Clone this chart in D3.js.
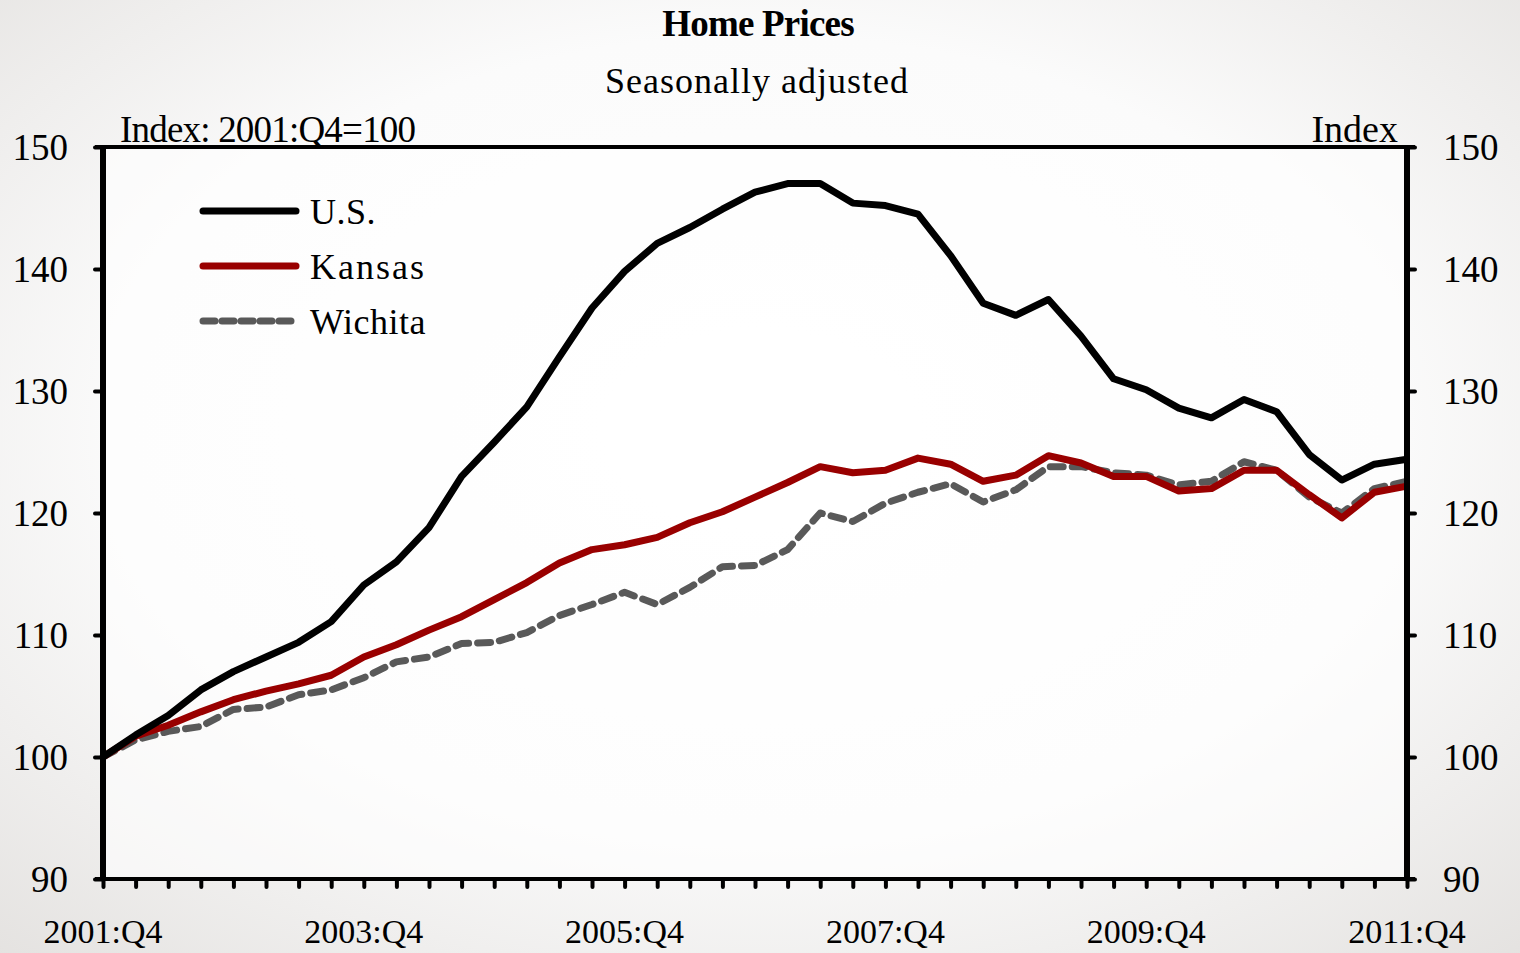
<!DOCTYPE html>
<html>
<head>
<meta charset="utf-8">
<script src="https://cdn.jsdelivr.net/npm/d3@7"></script>
<style>
  body { margin: 0; background: #fff; }
  svg { display: block; font-family: "Liberation Serif", "Times New Roman", serif; }
</style>
</head>
<body>
<svg id="chart" width="1520" height="953"></svg>
<script>
// quarters 2001:Q4 .. 2011:Q4
var quarters = [];
for (var y = 2001; y <= 2011; y++) {
    for (var q = 1; q <= 4; q++) {
        if ((y === 2001 && q < 4) || (y === 2011 && q > 4)) continue;
        quarters.push(y + ':Q' + q);
    }
}

var usValues = [100, 101.8, 103.4, 105.5, 107.0, 108.2, 109.4, 111.1, 114.1, 116.0,
    118.8, 123.0, 125.8, 128.7, 132.8, 136.8, 139.8, 142.1, 143.4, 144.9,
    146.3, 147.0, 147.0, 145.4, 145.2, 144.5, 141.1, 137.2, 136.2, 137.5,
    134.5, 131.0, 130.1, 128.6, 127.8, 129.3, 128.3, 124.8, 122.7, 124.0, 124.4];

var kansasValues = [100, 101.7, 102.6, 103.7, 104.7, 105.4, 106.0, 106.7, 108.2, 109.2,
    110.4, 111.5, 112.9, 114.3, 115.9, 117.0, 117.4, 118.0, 119.2, 120.1,
    121.3, 122.5, 123.8, 123.3, 123.5, 124.5, 124.0, 122.6, 123.1, 124.7,
    124.1, 123.0, 123.0, 121.8, 122.0, 123.5, 123.5, 121.5, 119.6, 121.7, 122.2];

var wichitaValues = [100, 101.4, 102.1, 102.5, 103.9, 104.1, 105.1, 105.5, 106.5, 107.8,
    108.2, 109.3, 109.4, 110.2, 111.6, 112.5, 113.5, 112.5, 113.9, 115.6,
    115.7, 117.0, 120.0, 119.3, 120.8, 121.7, 122.4, 120.9, 121.9, 123.8,
    123.8, 123.3, 123.1, 122.3, 122.6, 124.2, 123.5, 121.3, 120.0, 122.0, 122.6];

var yTicks = [90, 100, 110, 120, 130, 140, 150];
var xLabels = ['2001:Q4', '2003:Q4', '2005:Q4', '2007:Q4', '2009:Q4', '2011:Q4'];

var series = [
    { name: 'Wichita', values: wichitaValues, color: '#595959', dash: '13,9' },
    { name: 'Kansas', values: kansasValues, color: '#990000', dash: null },
    { name: 'U.S.', values: usValues, color: '#000000', dash: null }
];
var legendOrder = ['U.S.', 'Kansas', 'Wichita'];

var svg = d3.select('#chart');
var W = 1520, H = 953;
var margin = { left: 103, right: 113, top: 147, bottom: 74 };

// background with soft vignette
var defs = svg.append('defs');
var grad = defs.append('radialGradient').attr('id', 'bg')
    .attr('cx', '50%').attr('cy', '45%').attr('r', '75%');
grad.append('stop').attr('offset', '0%').attr('stop-color', '#ffffff');
grad.append('stop').attr('offset', '55%').attr('stop-color', '#fbfbfb');
grad.append('stop').attr('offset', '100%').attr('stop-color', '#e4e2e0');
svg.append('rect').attr('width', W).attr('height', H).attr('fill', 'url(#bg)');

var x = d3.scalePoint()
    .domain(quarters)
    .range([margin.left, W - margin.right]);

var y = d3.scaleLinear()
    .domain([90, 150])
    .range([H - margin.bottom, margin.top]);

// plot area
svg.append('rect')
    .attr('x', x.range()[0]).attr('y', y(150))
    .attr('width', x.range()[1] - x.range()[0])
    .attr('height', y(90) - y(150))
    .attr('fill', '#ffffff').attr('opacity', 0.6);

// lines
var line = d3.line()
    .x(function(d, i) { return x(quarters[i]); })
    .y(function(d) { return y(d); });

series.forEach(function(s) {
    svg.append('path')
        .datum(s.values)
        .attr('d', line)
        .attr('fill', 'none')
        .attr('stroke', s.color)
        .attr('stroke-width', 7)
        .attr('stroke-linejoin', 'round')
        .attr('stroke-linecap', s.dash ? 'round' : 'butt')
        .attr('stroke-dasharray', s.dash);
});

// axes
var xAxis = svg.append('g')
    .attr('transform', 'translate(0,' + y(90) + ')')
    .call(d3.axisBottom(x).tickSize(8).tickFormat(''));
var leftAxis = svg.append('g')
    .attr('transform', 'translate(' + x.range()[0] + ',0)')
    .call(d3.axisLeft(y).tickValues(yTicks).tickSize(8).tickPadding(27));
var rightAxis = svg.append('g')
    .attr('transform', 'translate(' + x.range()[1] + ',0)')
    .call(d3.axisRight(y).tickValues(yTicks).tickSize(8).tickPadding(28));

[xAxis, leftAxis, rightAxis].forEach(function(g) {
    g.select('.domain').remove();
    g.selectAll('.tick line')
        .attr('stroke', '#000').attr('stroke-width', 4).attr('stroke-linecap', 'round');
    g.selectAll('text')
        .attr('font-family', '"Liberation Serif", "Times New Roman", serif')
        .attr('font-size', 37).attr('fill', '#000');
});
leftAxis.selectAll('text').attr('dy', '0.33em');
rightAxis.selectAll('text').attr('dy', '0.33em');

// frame: thick sides, top and bottom
svg.append('line')
    .attr('x1', x.range()[0]).attr('x2', x.range()[0])
    .attr('y1', y(150)).attr('y2', y(90))
    .attr('stroke', '#000').attr('stroke-width', 6);
svg.append('line')
    .attr('x1', x.range()[1]).attr('x2', x.range()[1])
    .attr('y1', y(150)).attr('y2', y(90))
    .attr('stroke', '#000').attr('stroke-width', 6);
svg.append('line')
    .attr('x1', x.range()[0] - 8).attr('x2', x.range()[1] + 8)
    .attr('y1', y(150)).attr('y2', y(150))
    .attr('stroke', '#000').attr('stroke-width', 4);
svg.append('line')
    .attr('x1', x.range()[0] - 8).attr('x2', x.range()[1] + 8)
    .attr('y1', y(90)).attr('y2', y(90))
    .attr('stroke', '#000').attr('stroke-width', 4);

// x labels
svg.append('g').selectAll('text')
    .data(xLabels)
    .join('text')
    .attr('x', function(d) { return x(d); })
    .attr('y', 943)
    .attr('text-anchor', 'middle')
    .attr('font-size', 34)
    .text(function(d) { return d; });

// titles
svg.append('text')
    .attr('x', 758).attr('y', 36)
    .attr('text-anchor', 'middle')
    .attr('font-size', 37).attr('font-weight', 'bold')
    .attr('letter-spacing', '-0.8')
    .text('Home Prices');
svg.append('text')
    .attr('x', 757).attr('y', 93)
    .attr('text-anchor', 'middle')
    .attr('font-size', 36).attr('letter-spacing', '1')
    .text('Seasonally adjusted');
svg.append('text')
    .attr('x', 120).attr('y', 142)
    .attr('font-size', 37).attr('letter-spacing', '-0.8')
    .text('Index: 2001:Q4=100');
svg.append('text')
    .attr('x', 1398).attr('y', 142)
    .attr('text-anchor', 'end')
    .attr('font-size', 38)
    .text('Index');

// legend
var legend = svg.append('g').attr('transform', 'translate(200,211)');
legendOrder.forEach(function(name, i) {
    var s = series.find(function(d) { return d.name === name; });
    var g = legend.append('g').attr('transform', 'translate(0,' + (i * 55) + ')');
    g.append('line')
        .attr('x1', 3).attr('x2', 96)
        .attr('stroke', s.color).attr('stroke-width', 7)
        .attr('stroke-linecap', 'round')
        .attr('stroke-dasharray', s.dash ? '12,7' : null);
    g.append('text')
        .attr('x', 110).attr('y', 13)
        .attr('font-size', 36)
        .attr('letter-spacing', name === 'Kansas' ? '2' : '0.5')
        .text(name);
});
</script>
</body>
</html>
